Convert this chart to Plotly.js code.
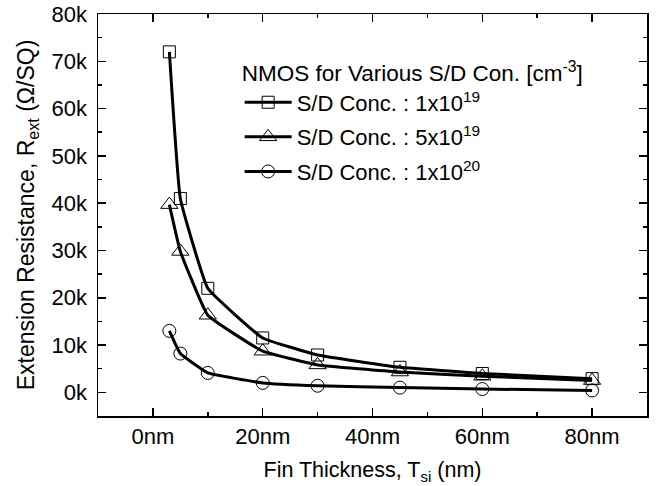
<!DOCTYPE html>
<html>
<head>
<meta charset="utf-8">
<script src="https://cdn.plot.ly/plotly-3.0.1.min.js"></script>
<style>html,body{margin:0;padding:0;background:#fff;}#chart{width:659px;height:486px;}</style>
</head>
<body>
<div id="chart"></div>
<script>
// Fin thickness (nm)
const finThickness = [3, 5, 10, 20, 30, 45, 60, 80];
// Extension resistance (Ohm/SQ)
const rext1e19 = [72000, 41000, 22000, 11500, 7900, 5300, 4000, 2900];
const rext5e19 = [39700, 29800, 16300, 8700, 5800, 4300, 3400, 2500];
const rext1e20 = [13000, 8200, 4100, 2000, 1400, 1000, 700, 400];

const seriesNames = [
  'S/D Conc. : 1x10<sup>19</sup>',
  'S/D Conc. : 5x10<sup>19</sup>',
  'S/D Conc. : 1x10<sup>20</sup>'
];
const legendTitle = 'NMOS for Various S/D Con. [cm<sup>-3</sup>]';
const yTickVals = [0, 10000, 20000, 30000, 40000, 50000, 60000, 70000, 80000];
const yTickLabels = ['0k', '10k', '20k', '30k', '40k', '50k', '60k', '70k', '80k'];
const xTickVals = [0, 20, 40, 60, 80];
const xTickLabels = ['0nm', '20nm', '40nm', '60nm', '80nm'];

const FONT = 'Liberation Sans, Arial, sans-serif';
const symbols = ['square-open', 'triangle-up-open', 'circle-open'];
const markerSizes = [12, 15, 13];
const ys = [rext1e19, rext5e19, rext1e20];

const traces = ys.map((y, i) => ({
  x: finThickness,
  y: y,
  name: seriesNames[i],
  legendgroup: 'g' + i,
  type: 'scatter',
  mode: 'lines+markers',
  line: {color: '#000', width: 3, shape: 'spline', smoothing: 0.3},
  marker: {symbol: symbols[i], size: markerSizes[i], color: '#000', line: {width: 1, color: '#000'}}
}));

const axisCommon = {
  showline: true, linecolor: '#000', linewidth: 1.5, mirror: 'allticks',
  ticks: 'inside', ticklen: 8, tickwidth: 1.5, tickcolor: '#000',
  showgrid: false, zeroline: false,
  tickfont: {family: FONT, size: 22, color: '#000'}
};

const layout = {
  width: 659, height: 486,
  margin: {l: 98, r: 12, t: 14, b: 70},
  paper_bgcolor: '#fff', plot_bgcolor: '#fff',
  font: {family: FONT, color: '#000'},
  showlegend: true,
  legend: {
    x: 0.258, y: 0.905, xanchor: 'left', yanchor: 'top',
    bgcolor: 'rgba(0,0,0,0)', borderwidth: 0,
    font: {family: FONT, size: 22, color: '#000'},
    title: {text: legendTitle, font: {family: FONT, size: 22.5, color: '#000'}},
    itemwidth: 47, traceorder: 'grouped', tracegroupgap: 3
  },
  xaxis: Object.assign({}, axisCommon, {
    range: [-10, 90], tickvals: xTickVals, ticktext: xTickLabels,
    minor: {ticks: 'inside', ticklen: 4, tickwidth: 1.5, tickcolor: '#000', dtick: 10, showgrid: false},
    title: {text: 'Fin Thickness, T<sub>si</sub> (nm)', font: {family: FONT, size: 21.5, color: '#000'}, standoff: 14}
  }),
  yaxis: Object.assign({}, axisCommon, {
    range: [-5000, 80000], tickvals: yTickVals, ticktext: yTickLabels,
    ticklabelstandoff: 5,
    minor: {ticks: 'inside', ticklen: 4, tickwidth: 1.5, tickcolor: '#000', dtick: 5000, tick0: 0, showgrid: false},
    title: {text: 'Extension Resistance, R<sub>ext</sub> (Ω/SQ)', font: {family: FONT, size: 23, color: '#000'}, standoff: 10}
  })
};

Plotly.newPlot('chart', traces, layout, {displayModeBar: false, staticPlot: true});
</script>
</body>
</html>
